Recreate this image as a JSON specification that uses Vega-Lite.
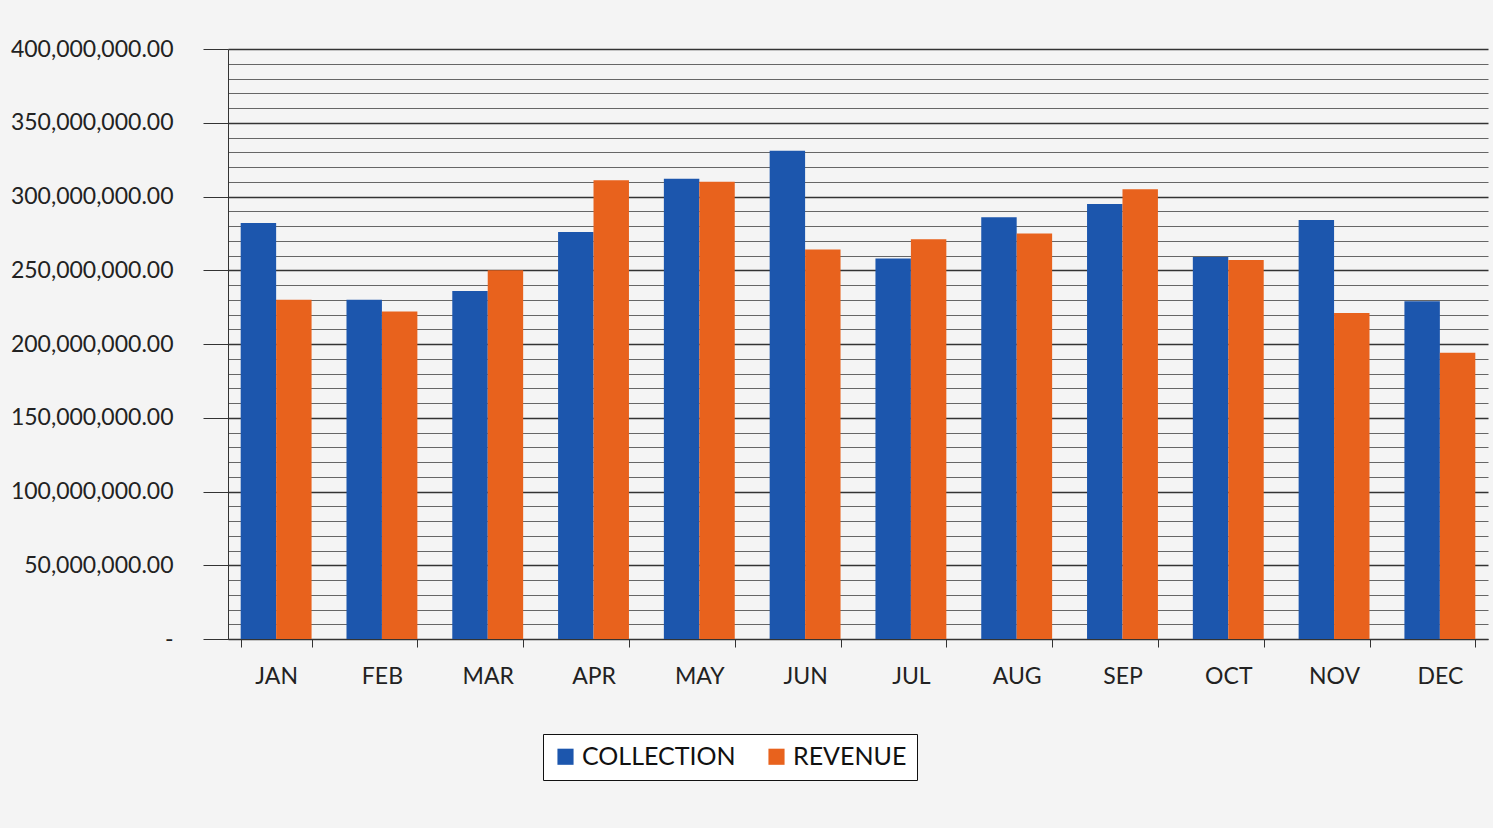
{
  "$schema": "https://vega.github.io/schema/vega-lite/v6.json",
  "width": 1260,
  "height": 590,
  "padding": {"left": 10, "top": 38, "right": 20, "bottom": 55},
  "background": "#f4f4f4",
  "config": {"view": {"stroke": null}, "font": "Lato"},
  "data": {
    "values": [
      {"month": "JAN", "series": "COLLECTION", "value": 282000000},
      {"month": "JAN", "series": "REVENUE", "value": 230000000},
      {"month": "FEB", "series": "COLLECTION", "value": 230000000},
      {"month": "FEB", "series": "REVENUE", "value": 222000000},
      {"month": "MAR", "series": "COLLECTION", "value": 236000000},
      {"month": "MAR", "series": "REVENUE", "value": 250000000},
      {"month": "APR", "series": "COLLECTION", "value": 276000000},
      {"month": "APR", "series": "REVENUE", "value": 311000000},
      {"month": "MAY", "series": "COLLECTION", "value": 312000000},
      {"month": "MAY", "series": "REVENUE", "value": 310000000},
      {"month": "JUN", "series": "COLLECTION", "value": 331000000},
      {"month": "JUN", "series": "REVENUE", "value": 264000000},
      {"month": "JUL", "series": "COLLECTION", "value": 258000000},
      {"month": "JUL", "series": "REVENUE", "value": 271000000},
      {"month": "AUG", "series": "COLLECTION", "value": 286000000},
      {"month": "AUG", "series": "REVENUE", "value": 275000000},
      {"month": "SEP", "series": "COLLECTION", "value": 295000000},
      {"month": "SEP", "series": "REVENUE", "value": 305000000},
      {"month": "OCT", "series": "COLLECTION", "value": 259000000},
      {"month": "OCT", "series": "REVENUE", "value": 257000000},
      {"month": "NOV", "series": "COLLECTION", "value": 284000000},
      {"month": "NOV", "series": "REVENUE", "value": 221000000},
      {"month": "DEC", "series": "COLLECTION", "value": 229000000},
      {"month": "DEC", "series": "REVENUE", "value": 194000000}
    ]
  },
  "mark": {"type": "bar"},
  "encoding": {
    "x": {
      "field": "month",
      "type": "nominal",
      "sort": ["JAN", "FEB", "MAR", "APR", "MAY", "JUN", "JUL", "AUG", "SEP", "OCT", "NOV", "DEC"],
      "scale": {"paddingInner": 0.33, "paddingOuter": 0.12},
      "axis": {
        "title": null,
        "labelAngle": 0,
        "labelFontSize": 23,
        "labelColor": "#222222",
        "domainColor": "#333333",
        "tickColor": "#333333",
        "tickBand": "extent",
        "tickSize": 8,
        "labelPadding": 18,
        "grid": false
      }
    },
    "xOffset": {"field": "series", "sort": ["COLLECTION", "REVENUE"]},
    "y": {
      "field": "value",
      "type": "quantitative",
      "scale": {"domain": [0, 400000000], "nice": false},
      "axis": {
        "title": null,
        "values": [0, 10000000, 20000000, 30000000, 40000000, 50000000, 60000000, 70000000, 80000000, 90000000, 100000000, 110000000, 120000000, 130000000, 140000000, 150000000, 160000000, 170000000, 180000000, 190000000, 200000000, 210000000, 220000000, 230000000, 240000000, 250000000, 260000000, 270000000, 280000000, 290000000, 300000000, 310000000, 320000000, 330000000, 340000000, 350000000, 360000000, 370000000, 380000000, 390000000, 400000000],
        "labelExpr": "datum.value === 0 ? '-' : (datum.value % 50000000 === 0 ? format(datum.value, ',.2f') : '')",
        "labelFontSize": 23,
        "labelColor": "#222222",
        "labelPadding": 30,
        "domainColor": "#333333",
        "grid": true,
        "gridColor": {"condition": {"test": "datum.value % 50000000 === 0", "value": "#333333"}, "value": "#666666"},
        "gridWidth": {"condition": {"test": "datum.value % 50000000 === 0", "value": 1.6}, "value": 1},
        "tickColor": {"condition": {"test": "datum.value % 50000000 === 0", "value": "#333333"}, "value": "transparent"},
        "tickSize": 25
      }
    },
    "color": {
      "field": "series",
      "type": "nominal",
      "scale": {"domain": ["COLLECTION", "REVENUE"], "range": ["#1c56ad", "#e8621d"]},
      "legend": {
        "title": null,
        "orient": "none",
        "direction": "horizontal",
        "legendX": 315,
        "legendY": 685,
        "strokeColor": "#111111",
        "fillColor": "#ffffff",
        "padding": 10,
        "labelFontSize": 25,
        "labelColor": "#111111",
        "symbolType": "square",
        "symbolSize": 260,
        "symbolStrokeWidth": 0,
        "columnPadding": 28
      }
    }
  }
}
